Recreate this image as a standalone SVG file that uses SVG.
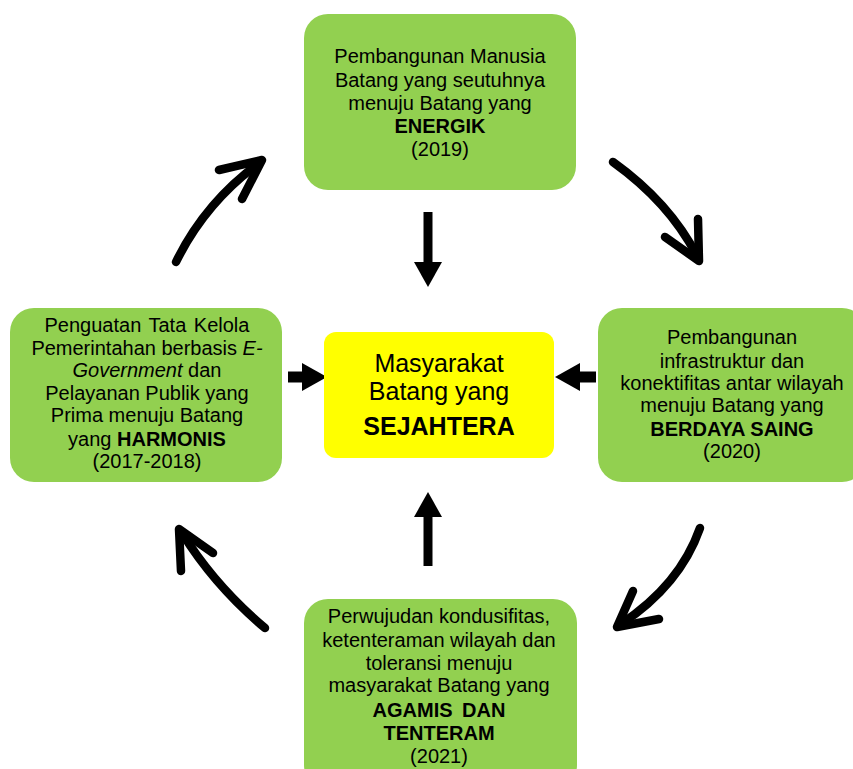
<svg xmlns="http://www.w3.org/2000/svg" width="853" height="769" viewBox="0 0 853 769">
<style>
.box{fill:#92d050;}
.core{fill:#ffff00;}
text{font-family:"Liberation Sans",Arial,sans-serif;fill:#000;text-anchor:middle;}
.t{font-size:20px;}
.c{font-size:25px;}
.b{font-weight:bold;}
.i{font-style:italic;}
.shaft{stroke:#000;fill:none;}
.curve{stroke:#000;stroke-width:8.5;fill:none;stroke-linecap:round;stroke-linejoin:round;}
</style>
<defs>
<marker id="head" markerUnits="userSpaceOnUse" markerWidth="25" markerHeight="28" viewBox="0 0 25 28" refX="0" refY="14" orient="auto">
<path d="M0,0 L25,14 L0,28 z" fill="#000"/>
</marker>
</defs>
<rect width="853" height="769" fill="#fff"/>

<g id="connectors">
<path class="shaft" stroke-width="9" d="M428,212 L428,262" marker-end="url(#head)"/>
<path class="shaft" stroke-width="9" d="M428,566 L428,517" marker-end="url(#head)"/>
<path class="shaft" stroke-width="11" d="M288,377 L302,377" marker-end="url(#head)"/>
<path class="shaft" stroke-width="11" d="M596,377 L580,377" marker-end="url(#head)"/>
<path class="curve" d="M176,262 Q205,203 258,164"/>
<path class="curve" d="M219,170 L262,160 L242,199"/>
<path class="curve" d="M613,162 Q670,203 697,256"/>
<path class="curve" d="M665,237 L699,261 L698,219"/>
<path class="curve" d="M700,528 Q680,585 621,624"/>
<path class="curve" d="M633,591 L617,627 L659,619"/>
<path class="curve" d="M265,628 Q215,586 182,533"/>
<path class="curve" d="M181,571 L179,529 L213,553"/>
</g>

<g id="node-top">
<rect class="box" x="304" y="14" width="272" height="176" rx="24"/>
<text class="t" x="440" y="63">Pembangunan Manusia</text>
<text class="t" x="440" y="87">Batang yang seutuhnya</text>
<text class="t" x="440" y="110">menuju Batang yang</text>
<text class="t b" x="440" y="133">ENERGIK</text>
<text class="t" x="440" y="156">(2019)</text>
</g>

<g id="node-left">
<rect class="box" x="10" y="308" width="272" height="174" rx="24"/>
<text class="t" x="147" y="332" word-spacing="2">Penguatan Tata Kelola</text>
<text class="t" x="147" y="355">Pemerintahan berbasis <tspan class="i">E-</tspan></text>
<text class="t" x="147" y="377"><tspan class="i">Government</tspan> dan</text>
<text class="t" x="147" y="400">Pelayanan Publik yang</text>
<text class="t" x="147" y="422">Prima menuju Batang</text>
<text class="t" x="147" y="446">yang <tspan class="b">HARMONIS</tspan></text>
<text class="t" x="147" y="468">(2017-2018)</text>
</g>

<g id="node-right">
<rect class="box" x="598" y="308" width="268" height="174" rx="24"/>
<text class="t" x="732" y="344">Pembangunan</text>
<text class="t" x="732" y="368">infrastruktur dan</text>
<text class="t" x="732" y="390">konektifitas antar wilayah</text>
<text class="t" x="732" y="412">menuju Batang yang</text>
<text class="t b" x="732" y="436">BERDAYA SAING</text>
<text class="t" x="732" y="458">(2020)</text>
</g>

<g id="node-bottom">
<rect class="box" x="304" y="599" width="273" height="190" rx="24"/>
<text class="t" x="439" y="623">Perwujudan kondusifitas,</text>
<text class="t" x="439" y="647">ketenteraman wilayah dan</text>
<text class="t" x="439" y="670">toleransi menuju</text>
<text class="t" x="439" y="692">masyarakat Batang yang</text>
<text class="t b" x="439" y="717" word-spacing="4">AGAMIS DAN</text>
<text class="t b" x="439" y="740">TENTERAM</text>
<text class="t" x="439" y="763">(2021)</text>
</g>

<g id="node-center">
<rect class="core" x="324" y="332" width="230" height="126" rx="12"/>
<text class="c" x="439" y="372">Masyarakat</text>
<text class="c" x="439" y="400">Batang yang</text>
<text class="c b" x="439" y="435">SEJAHTERA</text>
</g>
</svg>
